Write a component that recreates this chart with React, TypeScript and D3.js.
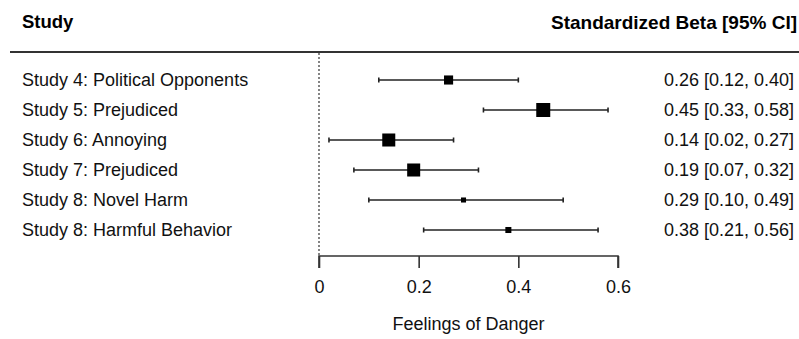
import React, { useEffect, useRef } from 'react';
import * as d3 from 'd3';

// Forest plot data
const studies = [
  'Study 4: Political Opponents',
  'Study 5: Prejudiced',
  'Study 6: Annoying',
  'Study 7: Prejudiced',
  'Study 8: Novel Harm',
  'Study 8: Harmful Behavior',
];
const betas = [0.26, 0.45, 0.14, 0.19, 0.29, 0.38];
const lower = [0.12, 0.33, 0.02, 0.07, 0.1, 0.21];
const upper = [0.4, 0.58, 0.27, 0.32, 0.49, 0.56];
// relative study weights (box size)
const weights = [0.65, 1.0, 0.93, 0.93, 0.36, 0.43];
const xTicks = [0, 0.2, 0.4, 0.6];

const FONT = 'Liberation Sans, Arial, Helvetica, sans-serif';

const App = () => {
  const chartRef = useRef<SVGSVGElement | null>(null);

  useEffect(() => {
    const svg = d3.select(chartRef.current);
    svg.selectAll('*').remove();

    const width = 799;

    const x = d3.scaleLinear().domain([0, 0.6]).range([319, 618]);
    const y = d3.scalePoint<string>().domain(studies).range([80, 230]);
    const size = d3.scaleLinear().domain([0, 1]).range([0, 14]);

    const data = studies.map((s, i) => ({
      study: s,
      beta: betas[i],
      lo: lower[i],
      hi: upper[i],
      w: weights[i],
    }));

    const g = svg.append('g').style('font-family', FONT).style('font-size', '18px');

    // Headers
    g.append('text')
      .attr('x', 22)
      .attr('y', 22)
      .attr('dy', '0.35em')
      .style('font-weight', 'bold')
      .style('font-size', '18.5px')
      .text('Study');
    g.append('text')
      .attr('x', 797)
      .attr('y', 22)
      .attr('dy', '0.35em')
      .attr('text-anchor', 'end')
      .style('font-weight', 'bold')
      .style('font-size', '19px')
      .text('Standardized Beta [95% CI]');

    // Header rule
    g.append('line')
      .attr('x1', 10)
      .attr('x2', width)
      .attr('y1', 52)
      .attr('y2', 52)
      .attr('stroke', '#333')
      .attr('stroke-width', 2);

    // Zero reference line
    g.append('line')
      .attr('x1', x(0))
      .attr('x2', x(0))
      .attr('y1', 53)
      .attr('y2', 256)
      .attr('stroke', '#333')
      .attr('stroke-width', 1.2)
      .attr('stroke-dasharray', '2,2');

    // X axis
    const axis = g.append('g').attr('transform', 'translate(0,256)');
    axis
      .call(d3.axisBottom(x).tickValues(xTicks).tickFormat(d3.format('~g')).tickSize(12).tickPadding(12))
      .call((a) => a.select('.domain').attr('stroke', '#333').attr('stroke-width', 1.6))
      .call((a) => a.selectAll('.tick line').attr('stroke', '#333').attr('stroke-width', 1.6))
      .call((a) =>
        a.selectAll('.tick text').style('font-size', '18px').style('font-family', FONT).attr('fill', '#111')
      );
    axis.select('.domain').attr('d', `M${x(0)},12V0H${x(0.6)}V12`);

    g.append('text')
      .attr('x', (x(0) + x(0.6)) / 2)
      .attr('y', 330)
      .attr('text-anchor', 'middle')
      .attr('fill', '#111')
      .text('Feelings of Danger');

    // Study labels
    g.selectAll('.label')
      .data(data)
      .enter()
      .append('text')
      .attr('x', 22)
      .attr('y', (d) => y(d.study)!)
      .attr('dy', '0.35em')
      .attr('fill', '#111')
      .text((d) => d.study);

    // Estimates text
    const fmt = d3.format('.2f');
    g.selectAll('.est')
      .data(data)
      .enter()
      .append('text')
      .attr('x', 794)
      .attr('y', (d) => y(d.study)!)
      .attr('dy', '0.35em')
      .attr('text-anchor', 'end')
      .attr('fill', '#111')
      .text((d) => `${fmt(d.beta)} [${fmt(d.lo)}, ${fmt(d.hi)}]`);

    // CI lines
    const rows = g.selectAll('.row').data(data).enter().append('g');
    rows
      .append('line')
      .attr('x1', (d) => x(d.lo))
      .attr('x2', (d) => x(d.hi))
      .attr('y1', (d) => y(d.study)!)
      .attr('y2', (d) => y(d.study)!)
      .attr('stroke', '#222')
      .attr('stroke-width', 1.6);
    ['lo', 'hi'].forEach((k) => {
      rows
        .append('line')
        .attr('x1', (d: any) => x(d[k]))
        .attr('x2', (d: any) => x(d[k]))
        .attr('y1', (d) => y(d.study)! - 2.5)
        .attr('y2', (d) => y(d.study)! + 2.5)
        .attr('stroke', '#222')
        .attr('stroke-width', 1.6);
    });
    rows
      .append('rect')
      .attr('x', (d) => x(d.beta) - size(d.w) / 2)
      .attr('y', (d) => y(d.study)! - size(d.w) / 2)
      .attr('width', (d) => size(d.w))
      .attr('height', (d) => size(d.w))
      .attr('fill', '#000');
  }, []);

  return (
    <svg
      ref={chartRef}
      width={799}
      height={339}
      style={{ position: 'absolute', left: 0, top: 0, background: '#fff' }}
    />
  );
};

export default App;
